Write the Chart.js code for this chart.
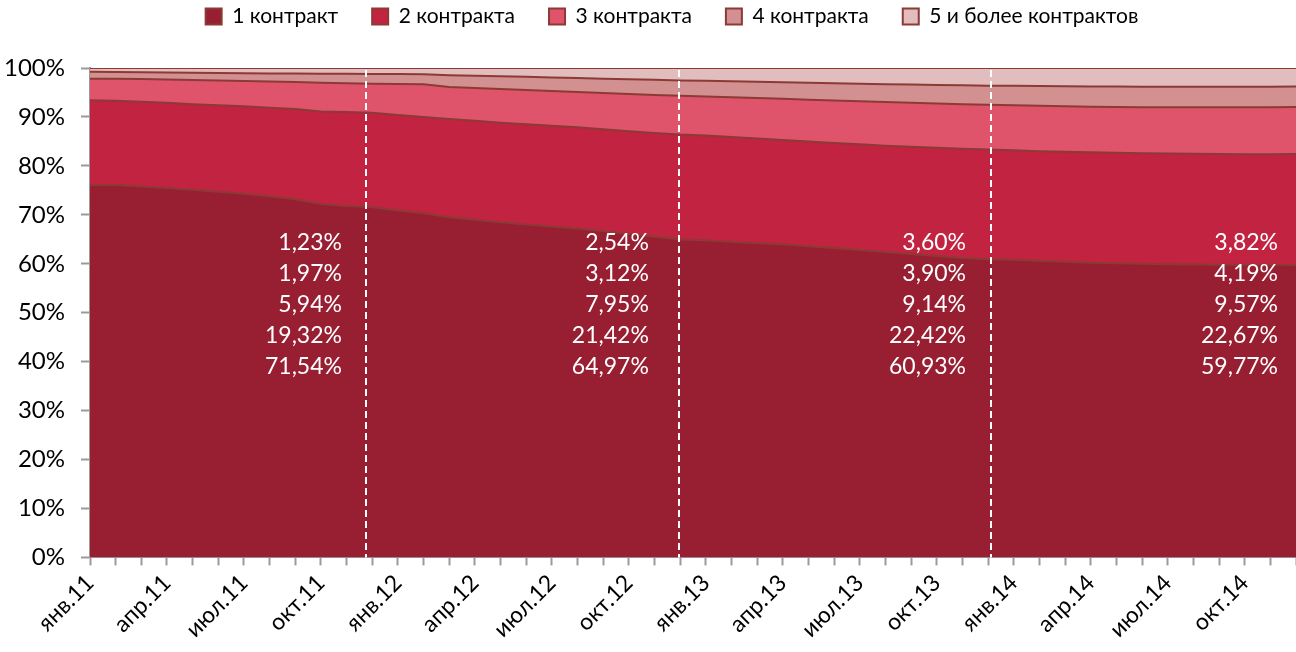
<!DOCTYPE html>
<html>
<head>
<meta charset="utf-8">
<script src="https://cdn.jsdelivr.net/npm/chart.js@4.4.0/dist/chart.umd.min.js"></script>
<style>
  html, body { margin: 0; padding: 0; background: #fff; }
  #wrap { width: 1296px; height: 652px; }
</style>
</head>
<body>
<div id="wrap"><canvas id="myChart" width="1296" height="652"></canvas></div>
<script>
'use strict';
// months x years -> 'янв.11' ... 'дек.14'
let months = ['янв', 'фев', 'мар', 'апр', 'май', 'июн', 'июл', 'авг', 'сен', 'окт', 'ноя', 'дек'];
let years = ['11', '12', '13', '14'];
let labels = [];
for (let y = 0; y < years.length; y++) {
    for (let m = 0; m < months.length; m++) {
        labels.push(months[m] + '.' + years[y]);
    }
}

let seriesNames = ['1 контракт', '2 контракта', '3 контракта', '4 контракта', '5 и более контрактов'];

// shares, % (dec values from the labels)
let oneContract = [76.1, 76.1, 75.8, 75.5, 75.1, 74.7, 74.3, 73.8, 73.2, 72.2, 71.8, 71.54,
    70.9, 70.3, 69.5, 69.0, 68.5, 68.0, 67.6, 67.2, 66.7, 66.1, 65.5, 64.97,
    64.8, 64.5, 64.2, 64.0, 63.6, 63.2, 62.8, 62.4, 62.0, 61.6, 61.2, 60.93,
    60.8, 60.6, 60.4, 60.2, 60.1, 60.0, 59.9, 59.85, 59.8, 59.8, 59.78, 59.77];
let twoContracts = [17.3, 17.2, 17.3, 17.4, 17.5, 17.7, 17.9, 18.1, 18.4, 18.9, 19.2, 19.32,
    19.5, 19.7, 20.1, 20.2, 20.3, 20.5, 20.6, 20.7, 20.8, 21.0, 21.2, 21.42,
    21.4, 21.4, 21.4, 21.3, 21.4, 21.5, 21.6, 21.7, 21.9, 22.1, 22.3, 22.42,
    22.4, 22.4, 22.5, 22.6, 22.6, 22.6, 22.65, 22.65, 22.65, 22.6, 22.62, 22.67];
let threeContracts = [4.4, 4.5, 4.65, 4.75, 4.95, 5.05, 5.15, 5.35, 5.55, 5.9, 5.9, 5.94,
    6.35, 6.7, 6.5, 6.7, 6.9, 7.0, 7.1, 7.2, 7.4, 7.6, 7.8, 7.95,
    8.0, 8.1, 8.25, 8.4, 8.5, 8.65, 8.8, 8.95, 9.0, 9.05, 9.1, 9.14,
    9.2, 9.3, 9.3, 9.3, 9.35, 9.4, 9.45, 9.5, 9.55, 9.6, 9.6, 9.57];
let fourContracts = [1.45, 1.4, 1.4, 1.45, 1.5, 1.55, 1.6, 1.65, 1.72, 1.83, 1.9, 1.97,
    2.0, 2.0, 2.4, 2.5, 2.6, 2.7, 2.75, 2.85, 2.9, 3.0, 3.1, 3.12,
    3.2, 3.3, 3.35, 3.4, 3.5, 3.55, 3.6, 3.65, 3.75, 3.8, 3.85, 3.90,
    3.95, 4.0, 4.05, 4.1, 4.15, 4.15, 4.15, 4.15, 4.15, 4.15, 4.17, 4.19];
let fivePlus = [0.75, 0.8, 0.85, 0.9, 0.95, 1.0, 1.05, 1.1, 1.13, 1.17, 1.2, 1.23,
    1.25, 1.3, 1.5, 1.6, 1.7, 1.8, 1.95, 2.05, 2.2, 2.3, 2.4, 2.54,
    2.6, 2.7, 2.8, 2.9, 3.0, 3.1, 3.2, 3.3, 3.35, 3.45, 3.55, 3.60,
    3.65, 3.7, 3.75, 3.8, 3.8, 3.85, 3.85, 3.85, 3.85, 3.85, 3.83, 3.82];

let yTicks = [0, 10, 20, 30, 40, 50, 60, 70, 80, 90, 100];

// december points that get a text block, and where the dashed year lines go
let noteIndex = [11, 23, 35, 47];
let noteAt = [9.82, 21.78, 34.14, 46.3];
let yearLines = [10.75, 22.95, 35.1];

let colors = ['#981e32', '#c22340', '#e0546b', '#d39090', '#e2bdbe'];
let lineColor = '#8c3a36';
let fontName = 'Lato, "Open Sans", sans-serif';

let allSeries = [oneContract, twoContracts, threeContracts, fourContracts, fivePlus];

let datasets = [];
for (let i = 0; i < allSeries.length; i++) {
    datasets.push({
        label: seriesNames[i],
        data: allSeries[i],
        backgroundColor: colors[i],
        borderColor: lineColor,
        borderWidth: 2,
        pointRadius: 0,
        tension: 0,
        fill: i === 0 ? 'origin' : '-1'
    });
}

function fmt(v) {
    return v.toFixed(2).replace('.', ',') + '%';
}

// make room between legend and plot, legend sits a bit right of centre
let legendGap = {
    id: 'legendGap',
    beforeInit(chart) {
        let fit = chart.legend.fit;
        chart.legend.fit = function () {
            fit.bind(chart.legend)();
            this.height += 31;
        };
    },
    afterLayout(chart) {
        chart.legend.left += 24;
        chart.legend.right += 24;
    }
};

let overlay = {
    id: 'overlay',
    afterDatasetsDraw(chart) {
        let ctx = chart.ctx;
        let xs = chart.scales.x;
        let ys = chart.scales.y;
        let area = chart.chartArea;
        ctx.save();
        // dashed white year separators
        ctx.strokeStyle = '#ffffff';
        ctx.lineWidth = 2;
        ctx.setLineDash([7, 4]);
        for (let i = 0; i < yearLines.length; i++) {
            let x = Math.round(xs.getPixelForValue(yearLines[i]));
            ctx.beginPath();
            ctx.moveTo(x, area.top + 2);
            ctx.lineTo(x, area.bottom);
            ctx.stroke();
        }
        ctx.setLineDash([]);
        // value blocks, top row = 5+ contracts
        ctx.fillStyle = '#ffffff';
        ctx.font = '23px ' + fontName;
        ctx.textAlign = 'right';
        ctx.textBaseline = 'middle';
        let rowStep = 31;
        for (let g = 0; g < noteIndex.length; g++) {
            let x = xs.getPixelForValue(noteAt[g]);
            let y0 = ys.getPixelForValue(64.4);
            for (let r = 0; r < 5; r++) {
                let s = allSeries[4 - r];
                ctx.fillText(fmt(s[noteIndex[g]]), x, y0 + r * rowStep);
            }
        }
        ctx.restore();
    }
};

function chartRender() {
    let ctx = document.getElementById('myChart').getContext('2d');
    let myChart = new Chart(ctx, {
        type: 'line',
        data: {
            labels: labels,
            datasets: datasets
        },
        options: {
            responsive: false,
            animation: false,
            layout: { padding: { left: 0, right: 0, top: -28, bottom: 5 } },
            plugins: {
                legend: {
                    position: 'top',
                    labels: {
                        font: { family: fontName, size: 21 },
                        color: '#000',
                        boxWidth: 16,
                        boxHeight: 16,
                        padding: 34
                    }
                },
                tooltip: { enabled: false }
            },
            scales: {
                x: {
                    offset: false,
                    afterFit: function (axis) {
                        axis.paddingRight = 0;
                    },
                    grid: {
                        display: true,
                        drawOnChartArea: false,
                        drawTicks: true,
                        tickLength: 8,
                        tickWidth: 2,
                        tickColor: '#9a9a9a'
                    },
                    border: { color: '#9a9a9a', width: 2 },
                    ticks: {
                        autoSkip: false,
                        maxRotation: 45,
                        minRotation: 45,
                        padding: 4,
                        color: '#000',
                        font: { family: fontName, size: 23 },
                        callback: function (val, index) {
                            return index % 3 === 0 ? labels[index] : '';
                        }
                    }
                },
                y: {
                    stacked: true,
                    min: 0,
                    max: 100,
                    afterBuildTicks: function (axis) {
                        axis.ticks = yTicks.map(v => ({ value: v }));
                    },
                    afterFit: function (axis) {
                        axis.width = 90;
                    },
                    grid: {
                        display: true,
                        drawOnChartArea: false,
                        drawTicks: true,
                        tickLength: 9,
                        tickWidth: 2,
                        tickColor: '#9a9a9a'
                    },
                    border: { color: '#9a9a9a', width: 2 },
                    ticks: {
                        padding: 16,
                        color: '#000',
                        font: { family: fontName, size: 24 },
                        callback: function (v) {
                            return v + '%';
                        }
                    }
                }
            }
        },
        plugins: [overlay, legendGap]
    });
}

chartRender();
</script>
</body>
</html>
